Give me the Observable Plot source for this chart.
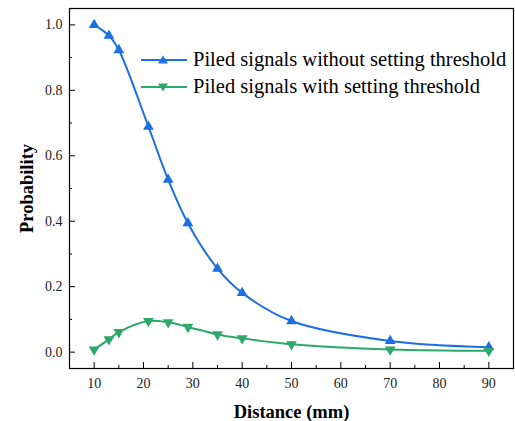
<!DOCTYPE html>
<html>
<head>
<meta charset="utf-8">
<script src="https://cdn.jsdelivr.net/npm/d3@7"></script>
<script src="https://cdn.jsdelivr.net/npm/@observablehq/plot@0.6"></script>
<style>
  html, body { margin: 0; padding: 0; background: #fff; }
  #wrap { position: relative; width: 515px; height: 421px; }
  #legend { position: absolute; left: 141px; top: 46px; font-family: "Liberation Serif", "DejaVu Serif", serif; font-size: 20.5px; color: #000; white-space: nowrap; }
  #legend span { font-family: "Liberation Serif", "DejaVu Serif", serif; }
  .row { display: flex; align-items: center; height: 27px; }
  .row svg { margin-right: 6px; }
</style>
</head>
<body>
<div id="wrap"><div id="legend"></div></div>
<script>
const distance = [10, 13, 15, 21, 25, 29, 35, 40, 50, 70, 90];
const withoutThreshold = [1.0, 0.967, 0.923, 0.689, 0.527, 0.394, 0.255, 0.181, 0.095, 0.034, 0.015];
const withThreshold = [0.008, 0.039, 0.061, 0.095, 0.091, 0.077, 0.054, 0.042, 0.024, 0.008, 0.004];
const seriesNames = ["Piled signals without setting threshold", "Piled signals with setting threshold"];
const seriesColors = ["#1b6fe0", "#2ba86a"];
const xTicks = [10, 20, 30, 40, 50, 60, 70, 80, 90];
const xMinor = [15, 25, 35, 45, 55, 65, 75, 85];
const yTicks = [0, 0.2, 0.4, 0.6, 0.8, 1.0];
const yMinor = [0.1, 0.3, 0.5, 0.7, 0.9];

const blue = distance.map((d, i) => ({x: d, y: withoutThreshold[i]}));
const green = distance.map((d, i) => ({x: d, y: withThreshold[i]}));

const font = "'Liberation Serif', 'DejaVu Serif', serif";

const chart = Plot.plot({
  width: 515,
  height: 421,
  marginLeft: 69,
  marginRight: 2,
  marginTop: 8,
  marginBottom: 53,
  style: {fontFamily: font, fontSize: "14px", color: "#000", background: "#fff"},
  x: {domain: [5, 95]},
  y: {domain: [-0.05, 1.05]},
  marks: [
    Plot.frame({stroke: "#000", strokeWidth: 1.2}),
    Plot.axisX({ticks: xTicks, tickSize: -6, text: null, stroke: "#000", label: null}),
    Plot.axisX({ticks: xMinor, tickSize: -3, text: null, stroke: "#000", label: null}),
    Plot.axisX({ticks: xTicks, tickSize: 0, tickPadding: 10, tickFormat: d => String(d), fill: "#222", label: null, fontFamily: font}),
    Plot.axisY({ticks: yTicks, tickSize: -6, text: null, stroke: "#000", label: null}),
    Plot.axisY({ticks: yMinor, tickSize: -3, text: null, stroke: "#000", label: null}),
    Plot.axisY({ticks: yTicks, tickSize: 0, tickPadding: 7, tickFormat: d3.format(".1f"), fill: "#222", label: null, fontFamily: font}),
    Plot.axisX({ticks: [], label: "Distance (mm)", labelArrow: "none", labelAnchor: "center", labelOffset: 49, fontSize: 18.5, fontWeight: "bold", fontFamily: font}),
    Plot.axisY({ticks: [], label: "Probability", labelArrow: "none", labelAnchor: "center", labelOffset: 50, fontSize: 18.5, fontWeight: "bold", fontFamily: font}),
    Plot.line(blue, {x: "x", y: "y", stroke: seriesColors[0], strokeWidth: 2, curve: "catmull-rom"}),
    Plot.line(green, {x: "x", y: "y", stroke: seriesColors[1], strokeWidth: 2, curve: "catmull-rom"}),
    Plot.dot(blue, {x: "x", y: "y", symbol: "triangle", r: 4, fill: seriesColors[0]}),
    Plot.dot(green, {x: "x", y: "y", symbol: "triangle", r: 4, fill: seriesColors[1], rotate: 180})
  ]
});
document.getElementById("wrap").prepend(chart);

const legend = document.getElementById("legend");
seriesNames.forEach((name, i) => {
  const row = document.createElement("div");
  row.className = "row";
  const tri = i === 0 ? "M22,0.5 L27,8.5 L17,8.5 Z" : "M22,9.5 L27,1.5 L17,1.5 Z";
  row.innerHTML = `<svg width="46" height="10" viewBox="0 0 46 10"><line x1="0" x2="46" y1="5" y2="5" stroke="${seriesColors[i]}" stroke-width="2"/><path d="${tri}" fill="${seriesColors[i]}"/></svg><span>${name}</span>`;
  legend.appendChild(row);
});
</script>
</body>
</html>
